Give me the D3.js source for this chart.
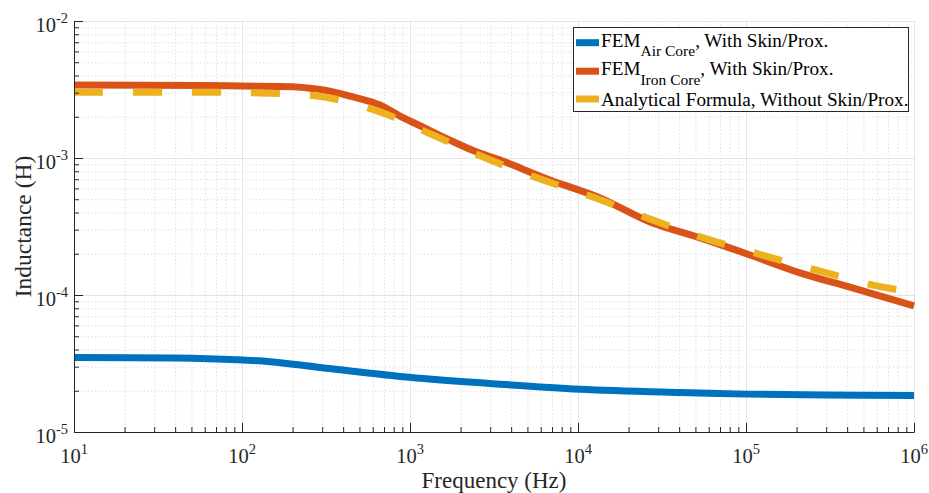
<!DOCTYPE html>
<html><head><meta charset="utf-8">
<script src="https://cdn.jsdelivr.net/npm/d3@7"></script>
<style>body{margin:0;background:#fff}svg{display:block}</style>
</head><body><svg id="c" width="929" height="493"></svg>
<script>
// ---- data ----
const freqAir = [10, 40, 93, 147, 291, 908, 2870, 10300, 40500, 101000, 300000, 1000000];
const indAir  = [3.50e-5, 3.47e-5, 3.37e-5, 3.26e-5, 2.96e-5, 2.53e-5, 2.27e-5, 2.05e-5, 1.94e-5, 1.89e-5, 1.86e-5, 1.85e-5];

const freqIron = [10, 56, 100, 201, 312, 440, 663, 872, 1147, 1729, 2439, 3436, 6808, 13520, 26840, 53250, 105600, 209500, 415700, 1000000];
const indIron  = [3.41e-3, 3.38e-3, 3.35e-3, 3.31e-3, 3.12e-3, 2.83e-3, 2.44e-3, 2.02e-3, 1.72e-3, 1.35e-3, 1.12e-3, 9.67e-4, 6.91e-4, 5.11e-4, 3.41e-4, 2.61e-4, 1.96e-4, 1.45e-4, 1.14e-4, 8.32e-5];

const freqAna = [10, 56, 128, 308, 663, 1371, 2911, 6194, 12270, 27930, 59430, 129800, 283300, 611000, 1000000];
const indAna  = [3.02e-3, 3.02e-3, 2.98e-3, 2.79e-3, 2.17e-3, 1.47e-3, 9.84e-4, 6.91e-4, 5.19e-4, 3.52e-4, 2.55e-4, 1.93e-4, 1.48e-4, 1.16e-4, 1.05e-4];

const xTickExps = [1, 2, 3, 4, 5, 6];
const yTickExps = [-5, -4, -3, -2];
const xLabel = "Frequency (Hz)";
const yLabel = "Inductance (H)";
const seriesNames = [
  {main: "FEM", sub: "Air Core", rest: ", With Skin/Prox."},
  {main: "FEM", sub: "Iron Core", rest: ", With Skin/Prox."},
  {main: "Analytical Formula, Without Skin/Prox.", sub: "", rest: ""}
];
const colors = ["#0072BD", "#D95319", "#EDB120"];

// ---- layout ----
const W = 929, H = 493, m = {l: 74, r: 15, t: 21, b: 61};
const svg = d3.select("#c");
const x = d3.scaleLog().domain([1e1, 1e6]).range([m.l, W - m.r]);
const y = d3.scaleLog().domain([1e-5, 1e-2]).range([H - m.b, m.t]);
const FONT = "'Liberation Serif','Times New Roman',serif";
const axisCol = "#262626";

function minors(lo, hi) {
  const out = [];
  for (let e = lo; e < hi; e++) for (let k = 2; k <= 9; k++) out.push(k * Math.pow(10, e));
  return out;
}
const xMajor = xTickExps.map(e => Math.pow(10, e));
const yMajor = yTickExps.map(e => Math.pow(10, e));
const xMinor = minors(1, 6), yMinor = minors(-5, -2);
const pw = W - m.l - m.r, ph = H - m.t - m.b;

// ---- grids ----
const gMinX = svg.append("g").attr("transform", `translate(0,${H - m.b})`)
  .call(d3.axisBottom(x).tickValues(xMinor).tickSize(-ph).tickFormat(""));
const gMinY = svg.append("g").attr("transform", `translate(${m.l},0)`)
  .call(d3.axisLeft(y).tickValues(yMinor).tickSize(-pw).tickFormat(""));
[gMinX, gMinY].forEach(g => {
  g.select(".domain").remove();
  g.selectAll("line").attr("stroke", "#d9d9d9").attr("stroke-dasharray", "1.2,2.3").attr("stroke-width", 1);
});
const gMajX = svg.append("g").attr("transform", `translate(0,${H - m.b})`)
  .call(d3.axisBottom(x).tickValues(xMajor).tickSize(-ph).tickFormat(""));
const gMajY = svg.append("g").attr("transform", `translate(${m.l},0)`)
  .call(d3.axisLeft(y).tickValues(yMajor).tickSize(-pw).tickFormat(""));
[gMajX, gMajY].forEach(g => {
  g.select(".domain").remove();
  g.selectAll("line").attr("stroke", "#e3e3e3").attr("stroke-width", 1);
});

// ---- lines ----
const line = d3.line().x(d => x(d[0])).y(d => y(d[1])).curve(d3.curveCatmullRom.alpha(0.5));
const series = [
  {f: freqAir, v: indAir, c: colors[0], dash: null},
  {f: freqIron, v: indIron, c: colors[1], dash: null},
  {f: freqAna, v: indAna, c: colors[2], dash: "29,30"}
];
series.forEach(s => {
  svg.append("path").datum(s.f.map((f, i) => [f, s.v[i]]))
    .attr("d", line).attr("fill", "none").attr("stroke", s.c)
    .attr("stroke-width", 7).attr("stroke-dasharray", s.dash);
});

// ---- axes ----
function styleAxis(g) {
  g.selectAll("line").attr("stroke", axisCol);
  g.select(".domain").attr("stroke", axisCol).attr("stroke-width", 1);
}
svg.append("g").attr("transform", `translate(0,${H - m.b})`)
  .call(d3.axisBottom(x).tickValues(xMinor).tickSizeInner(-5).tickSizeOuter(0).tickFormat(""))
  .call(styleAxis);
svg.append("g").attr("transform", `translate(0,${H - m.b})`)
  .call(d3.axisBottom(x).tickValues(xMajor).tickSizeInner(-9).tickSizeOuter(0).tickFormat(""))
  .call(styleAxis);
svg.append("g").attr("transform", `translate(${m.l},0)`)
  .call(d3.axisLeft(y).tickValues(yMinor).tickSizeInner(-5).tickSizeOuter(0).tickFormat(""))
  .call(styleAxis);
svg.append("g").attr("transform", `translate(${m.l},0)`)
  .call(d3.axisLeft(y).tickValues(yMajor).tickSizeInner(-9).tickSizeOuter(0).tickFormat(""))
  .call(styleAxis);

// tick labels with superscripts
xTickExps.forEach(e => {
  const t = svg.append("text").attr("x", x(Math.pow(10, e))).attr("y", H - m.b + 31)
    .attr("text-anchor", "middle").attr("font-family", FONT).attr("fill", axisCol);
  t.append("tspan").attr("font-size", 20.5).text("10");
  t.append("tspan").attr("font-size", 14.5).attr("dy", -9).text(String(e));
});
yTickExps.forEach(e => {
  const t = svg.append("text").attr("x", m.l - 6).attr("y", y(Math.pow(10, e)) + 11)
    .attr("text-anchor", "end").attr("font-family", FONT).attr("fill", axisCol);
  t.append("tspan").attr("font-size", 20.5).text("10");
  t.append("tspan").attr("font-size", 14.5).attr("dy", -9).text("-" + Math.abs(e));
});

// axis labels
svg.append("text").attr("x", m.l + pw / 2).attr("y", 488).attr("text-anchor", "middle")
  .attr("font-family", FONT).attr("font-size", 23).attr("fill", axisCol).text(xLabel);
svg.append("text").attr("transform", `translate(31,${m.t + ph / 2}) rotate(-90)`)
  .attr("text-anchor", "middle").attr("font-family", FONT).attr("font-size", 23.5)
  .attr("fill", axisCol).text(yLabel);

// ---- legend ----
const lg = svg.append("g");
lg.append("rect").attr("x", 573.5).attr("y", 27.5).attr("width", 335).attr("height", 84)
  .attr("fill", "#fff").attr("stroke", axisCol).attr("stroke-width", 1);
const rowY = [42.7, 71.2, 99];
const baseY = [46.5, 75.3, 106];
seriesNames.forEach((n, i) => {
  lg.append("line").attr("x1", 576).attr("x2", 599).attr("y1", rowY[i]).attr("y2", rowY[i])
    .attr("stroke", colors[i]).attr("stroke-width", 7);
  const t = lg.append("text").attr("x", 601).attr("y", baseY[i])
    .attr("font-family", FONT).attr("font-size", 19.2).attr("fill", "#000");
  t.append("tspan").text(n.main);
  if (n.sub) {
    t.append("tspan").attr("font-size", 15.5).attr("dy", 9.5).text(n.sub);
    t.append("tspan").attr("dy", -9.5).text(n.rest);
  }
});
</script>
</body></html>
